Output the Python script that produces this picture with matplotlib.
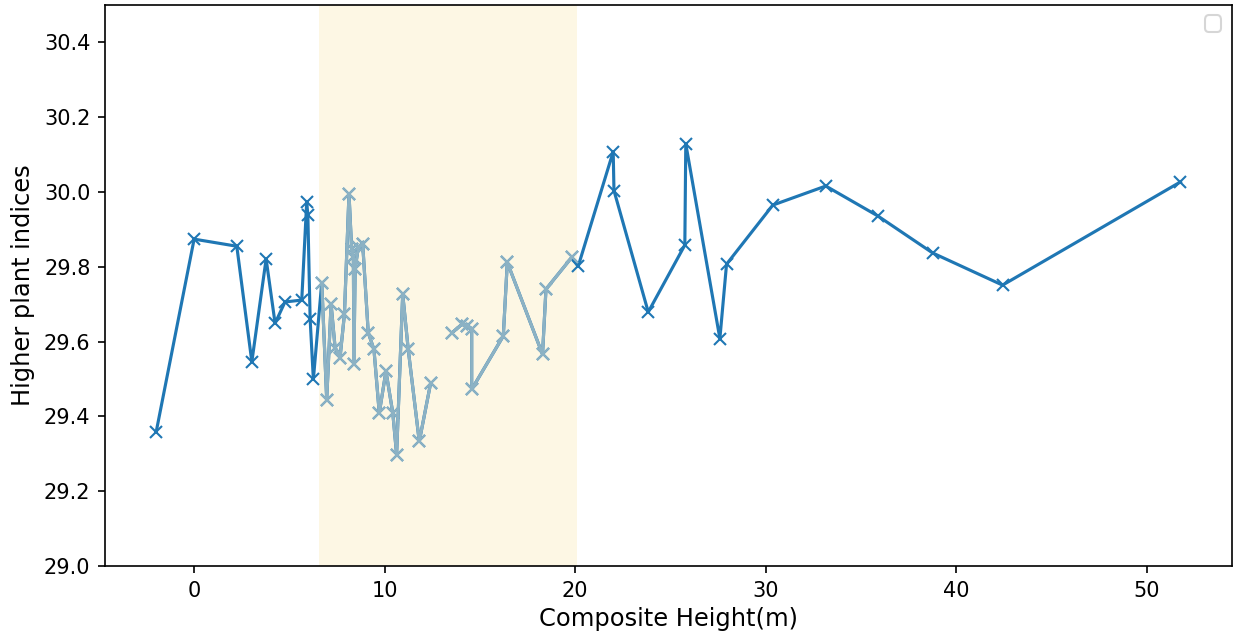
import numpy as np
import matplotlib
matplotlib.use("Agg")
import matplotlib.pyplot as plt

# Composite height (m) and higher plant index values (NaN = gap in record)
height = [-1.99, 0.0, 2.24, 3.03, 3.78, 4.25, 4.77, 5.65, 5.91, 5.97, 6.09, 6.26,
          6.70, 6.96, 7.19, 7.40, 7.66, 7.89, 8.13, 8.27, 8.36, 8.39, 8.45, 8.62,
          8.85, 9.14, 9.44, 9.72, 10.07, 10.43, 10.63, 10.95, 11.24, 11.82, 12.42,
          13.0,
          13.55, 14.05, 14.31, 14.57, 14.57, 16.23, 16.44, 18.29, 18.47, 19.82,
          20.16, 22.00, 22.04, 23.84, 25.76, 25.81, 27.60, 27.95, 30.38, 33.16,
          35.89, 38.77, 42.44, 51.78]
index = [29.359, 29.874, 29.855, 29.546, 29.821, 29.649, 29.706, 29.711, 29.973,
         29.939, 29.660, 29.499,
         29.758, 29.445, 29.700, 29.584, 29.557, 29.673, 29.995, 29.847, 29.825,
         29.541, 29.794, 29.852, 29.861, 29.624, 29.579, 29.409, 29.521, 29.409,
         29.298, 29.727, 29.579, 29.333, 29.490,
         np.nan,
         29.624, 29.646, 29.642, 29.635, 29.472, 29.615, 29.812, 29.566, 29.740,
         29.825,
         29.801, 30.108, 30.004, 29.679, 29.858, 30.129, 29.608, 29.807, 29.965,
         30.016, 29.936, 29.837, 29.751, 30.027]

span_start = 6.56
span_end = 20.09

height = np.array(height)
index = np.array(index)

fig = plt.figure(figsize=(1236 / 150, 638 / 150), dpi=150)
ax = fig.add_axes([105 / 1236, 72 / 638, (1231.7 - 105) / 1236, (566 - 5) / 638])

ax.axvspan(span_start, span_end, color="#fdf7e4", zorder=0, lw=0)
ax.plot(height, index, color="#1f77b4", marker="x", lw=1.5, zorder=2)
mask = (height > span_start) & (height < span_end)
ax.plot(height[mask], index[mask], color="#8cb2c4", marker="x", lw=1.5, zorder=3)

ax.set_ylim(29.0, 30.5)
ax.set_yticks([29.0, 29.2, 29.4, 29.6, 29.8, 30.0, 30.2, 30.4])
ax.set_xlabel("Composite Height(m)", fontsize=11.6, labelpad=3)
ax.set_ylabel("Higher plant indices", fontsize=11.6)
ax.legend(handles=[], loc="upper right")

fig.savefig("out.png", dpi=150)
